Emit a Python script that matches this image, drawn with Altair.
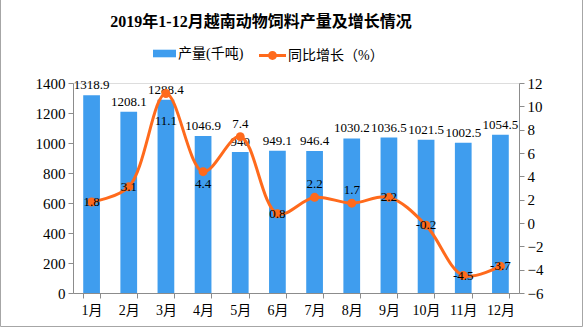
import altair as alt
import pandas as pd

title_text = "2019年1-12月越南动物饲料产量及增长情况"
months = ["1月", "2月", "3月", "4月", "5月", "6月", "7月", "8月", "9月", "10月", "11月", "12月"]
output = [1318.9, 1208.1, 1288.4, 1046.9, 940, 949.1, 946.4, 1030.2, 1036.5, 1021.5, 1002.5, 1054.5]
growth = [1.8, 3.1, 11.1, 4.4, 7.4, 0.8, 2.2, 1.7, 2.2, -0.2, -4.5, -3.7]

left_ticks = [0, 200, 400, 600, 800, 1000, 1200, 1400]
right_ticks = [-6, -4, -2, 0, 2, 4, 6, 8, 10, 12]

above_months = ["5月", "7月", "8月"]
below_months = ["4月"]
far_below_months = ["3月"]

BLUE = "#3F9DEE"
ORANGE = "#FF6A1C"
FONT = "Liberation Serif, Noto Sans CJK SC"
AXIS_GRAY = "#8c8c8c"

df = pd.DataFrame({
    "month": months,
    "output": output,
    "growth": growth,
    "out_lab": [f"{v:g}" for v in output],
    "gr_lab": [f"{v:g}" for v in growth],
    "k1": ["产量(千吨)"] * 12,
    "k2": ["同比增长（%）"] * 12,
})

x_enc = alt.X(
    "month:N", sort=months,
    scale=alt.Scale(paddingInner=0.55, paddingOuter=0.275),
    axis=alt.Axis(title=None, labelAngle=0, tickBand="extent", domainColor=AXIS_GRAY,
                  tickColor=AXIS_GRAY, tickSize=5, labelFontSize=14, labelPadding=5,
                  labelFont=FONT, labelColor="#000"),
)

y_left = alt.Y(
    "output:Q", scale=alt.Scale(domain=[0, 1400], nice=False),
    axis=alt.Axis(title=None, values=left_ticks, format="d", grid=False, domainColor=AXIS_GRAY,
                  tickColor=AXIS_GRAY, tickSize=5, labelFontSize=15, labelPadding=3,
                  labelFont=FONT, labelColor="#000"),
)

y_right = alt.Y(
    "growth:Q", scale=alt.Scale(domain=[-6, 12], nice=False),
    axis=alt.Axis(title=None, orient="right", values=right_ticks, grid=False,
                  domainColor=AXIS_GRAY, tickColor=AXIS_GRAY, tickSize=5,
                  labelFontSize=15, labelPadding=3, labelFont=FONT, labelColor="#000"),
)

base = alt.Chart(df).encode(x=x_enc)

bars = base.mark_bar().encode(
    y=y_left,
    fill=alt.Fill("k1:N", scale=alt.Scale(range=[BLUE]),
                  legend=alt.Legend(title=None, orient="none", legendX=80, legendY=-41,
                                    symbolType="M-1,-0.33L1,-0.33L1,0.33L-1,0.33Z",
                                    symbolSize=529, symbolStrokeWidth=0,
                                    labelFontSize=14, labelFont=FONT, labelColor="#000",
                                    labelOffset=2)),
)
bar_labels = base.mark_text(baseline="bottom", dy=-3, fontSize=13, font=FONT, color="#000").encode(
    y=y_left, text="out_lab:N"
)
left = alt.layer(bars, bar_labels)

line = base.mark_line(strokeWidth=3, interpolate="catmull-rom").encode(
    y=y_right,
    stroke=alt.Stroke("k2:N", scale=alt.Scale(range=[ORANGE]),
                      legend=alt.Legend(title=None, orient="none", legendX=186, legendY=-41,
                                        symbolType="M-1,-0.11L1,-0.11L1,0.11L-1,0.11Z M-0.33,0A0.33,0.33 0 1,1 0.33,0A0.33,0.33 0 1,1 -0.33,0Z",
                                        symbolSize=729, symbolStrokeWidth=0,
                                        symbolFillColor=ORANGE,
                                        labelFontSize=14, labelFont=FONT, labelColor="#000",
                                        labelOffset=2)),
)
points = base.mark_circle(size=80, color=ORANGE, opacity=1).encode(y=y_right)

special = above_months + below_months + far_below_months
lab_center = base.transform_filter(
    ~alt.FieldOneOfPredicate(field="month", oneOf=special)
).mark_text(fontSize=13, font=FONT, color="#000").encode(y=y_right, text="gr_lab:N")
lab_above = base.transform_filter(
    alt.FieldOneOfPredicate(field="month", oneOf=above_months)
).mark_text(fontSize=13, font=FONT, color="#000", dy=-13).encode(y=y_right, text="gr_lab:N")
lab_below = base.transform_filter(
    alt.FieldOneOfPredicate(field="month", oneOf=below_months)
).mark_text(fontSize=13, font=FONT, color="#000", dy=12).encode(y=y_right, text="gr_lab:N")
lab_far = base.transform_filter(
    alt.FieldOneOfPredicate(field="month", oneOf=far_below_months)
).mark_text(fontSize=13, font=FONT, color="#000", dy=27).encode(y=y_right, text="gr_lab:N")

right = alt.layer(line, points, lab_center, lab_above, lab_below, lab_far)

deco = pd.DataFrame({"t": [title_text]})
border = alt.Chart(deco).mark_rect(
    fillOpacity=0, stroke="#a6a6a6", strokeWidth=1
).encode(x=alt.value(-72.5), x2=alt.value(446 + 63.5), y=alt.value(-95), y2=alt.value(210 + 33.5))
title = alt.Chart(deco).mark_text(
    fontSize=16, fontWeight="bold", font=FONT, color="#000", align="center", baseline="middle"
).encode(x=alt.value(261 - 73), y=alt.value(22 - 83), text="t:N")

chart = alt.layer(left, right, border, title).resolve_scale(y="independent").properties(
    width=446, height=210,
    autosize=alt.AutoSizeParams(type="none"),
    padding={"left": 73, "top": 83, "right": 64, "bottom": 34},
).configure_view(strokeWidth=0).configure(background="white")

chart.save("out.html", embed_options={"renderer": "svg", "actions": False})
